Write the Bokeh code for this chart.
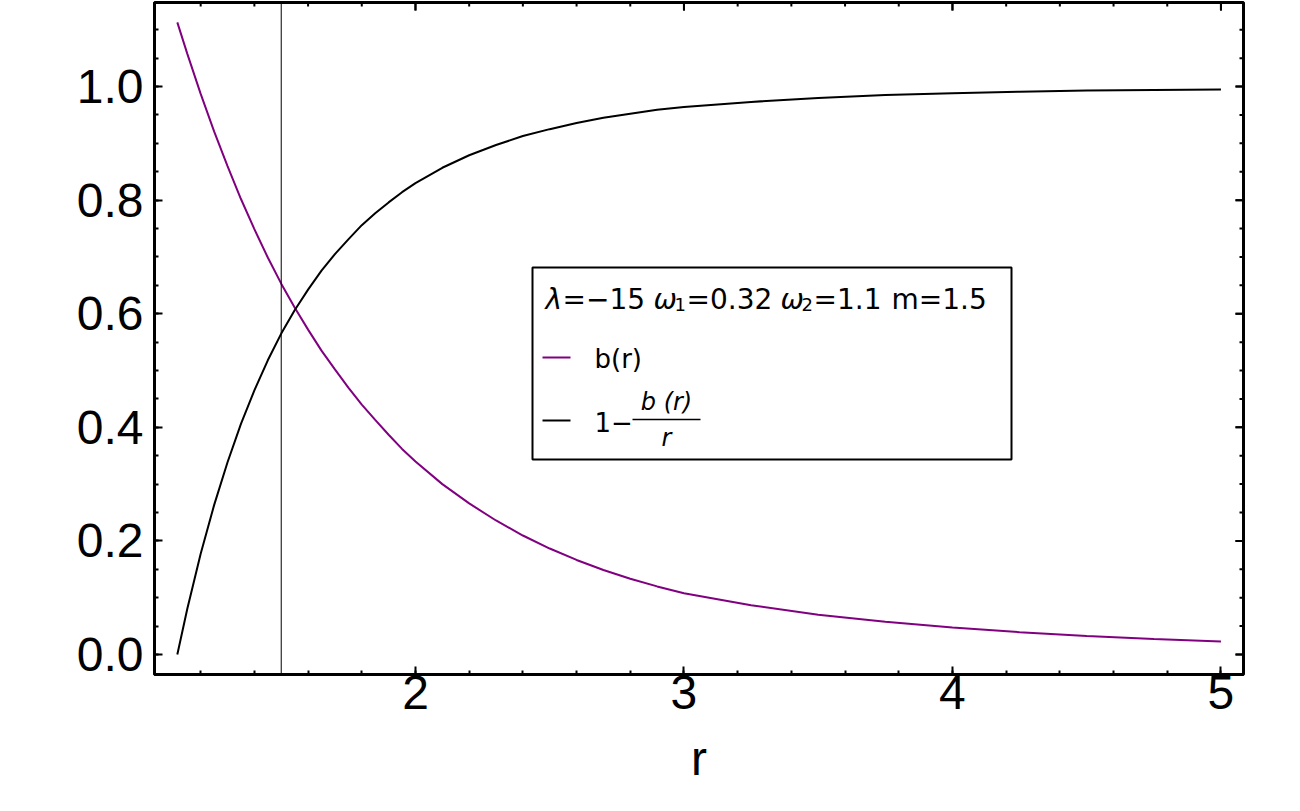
import numpy as np
from bokeh.plotting import figure
from bokeh.models import Range1d, FixedTicker, PrintfTickFormatter, Span, Label
from bokeh.embed import file_html
from bokeh.resources import INLINE

# ---- data ----
r_vals = [1.113, 1.15, 1.2, 1.25, 1.3, 1.35, 1.4, 1.45, 1.5, 1.55, 1.6, 1.65, 1.7, 1.75,
          1.8, 1.85, 1.9, 1.95, 2.0, 2.1, 2.2, 2.3, 2.4, 2.5, 2.6, 2.7, 2.8, 2.9, 3.0,
          3.25, 3.5, 3.75, 4.0, 4.25, 4.5, 4.75, 5.0]
b_vals = [1.113, 1.058, 0.987, 0.921, 0.860, 0.802, 0.749, 0.699, 0.653, 0.611, 0.572,
          0.535, 0.502, 0.470, 0.440, 0.413, 0.387, 0.362, 0.340, 0.300, 0.266, 0.236,
          0.2095, 0.1866, 0.1665, 0.1488, 0.1335, 0.1199, 0.108, 0.0866, 0.0702, 0.0575,
          0.0475, 0.0393, 0.0327, 0.0274, 0.0231]
one_minus_b_over_r = [0.0, 0.080, 0.1775, 0.263, 0.3385, 0.406, 0.465, 0.518, 0.565, 0.606,
                      0.6425, 0.676, 0.705, 0.731, 0.756, 0.777, 0.796, 0.814, 0.830, 0.857,
                      0.879, 0.897, 0.913, 0.925, 0.936, 0.945, 0.952, 0.959, 0.964, 0.973,
                      0.980, 0.985, 0.988, 0.991, 0.993, 0.994, 0.995]
throat_r = 1.5
x_major = [2, 3, 4, 5]
y_major = [0.0, 0.2, 0.4, 0.6, 0.8, 1.0]
legend_b = "b(r)"

PURPLE = "#800080"
X0, X1 = 1.028, 5.084
Y0, Y1 = -0.0352, 1.148
W, H = 1298, 809
FL, FR, FT, FB = 154, 1243, 2, 674   # frame edges in page pixels

p = figure(width=W, height=H, x_range=Range1d(X0, X1), y_range=Range1d(Y0, Y1),
           output_backend="svg", toolbar_location=None,
           min_border_left=FL, min_border_right=W - FR, min_border_top=FT,
           min_border_bottom=H - FB, x_axis_label="r")
p.xgrid.visible = False
p.ygrid.visible = False
p.outline_line_color = "black"
p.outline_line_width = 3
p.background_fill_color = "white"
p.border_fill_color = "white"

x_minor = [round(v, 2) for v in np.arange(1.2, 5.01, 0.2)]
y_minor = [round(v, 3) for v in np.arange(0.0, 1.101, 0.05)]

FONT = "Liberation Sans"

def style(ax):
    ax.axis_line_width = 3
    ax.axis_line_color = "black"
    ax.major_tick_in = 8
    ax.major_tick_out = 0
    ax.minor_tick_in = 4
    ax.minor_tick_out = 0
    ax.major_tick_line_width = 2
    ax.minor_tick_line_width = 2
    ax.major_label_text_font = FONT
    ax.major_label_text_color = "black"
    ax.major_label_text_font_size = "48px"

xa = p.xaxis[0]
xa.ticker = FixedTicker(ticks=x_major, minor_ticks=x_minor)
xa.formatter = PrintfTickFormatter(format="%d")
style(xa)
xa.major_label_standoff = 1
xa.axis_label_text_font = FONT
xa.axis_label_text_font_size = "48px"
xa.axis_label_text_font_style = "normal"
xa.axis_label_text_color = "black"
xa.axis_label_standoff = 20

ya = p.yaxis[0]
ya.ticker = FixedTicker(ticks=y_major, minor_ticks=y_minor)
ya.formatter = PrintfTickFormatter(format="%.1f")
style(ya)
ya.major_label_standoff = 11

# frame ticks on the top and right edges (no labels)
sx = (FR - FL) / (X1 - X0)
sy = (FB - FT) / (Y1 - Y0)
xt_all = x_major + x_minor
xt_len = [8 if v in x_major else 4 for v in xt_all]
p.segment(xt_all, [Y1] * len(xt_all), xt_all, [Y1 - L / sy for L in xt_len],
          line_color="black", line_width=2)
yt_all = y_major + y_minor
yt_len = [8 if v in y_major else 4 for v in yt_all]
p.segment([X1] * len(yt_all), yt_all, [X1 - L / sx for L in yt_len], yt_all,
          line_color="black", line_width=2)

# curves
p.line(r_vals, b_vals, line_color=PURPLE, line_width=2)
p.line(r_vals, one_minus_b_over_r, line_color="black", line_width=2)
p.add_layout(Span(location=throat_r, dimension="height", line_color="black", line_width=1))

# ---- legend (layout positions given in page pixels) ----
def px(xp, yp):
    return X0 + (xp - FL) / sx, Y1 - (yp - FT) / sy

l, t = px(532, 267)
rr, b = px(1011, 459)
p.quad(left=[l], right=[rr], top=[t], bottom=[b], fill_color="white", fill_alpha=1,
       line_color="black", line_width=2)

LFONT = "DejaVu Sans"
DY = -9  # baseline correction

def lab(xp, yp, text, size, style="normal", align="left"):
    x, y = px(xp, yp + DY)
    p.add_layout(Label(x=x, y=y, text=text, text_font=LFONT, text_font_size=size,
                       text_font_style=style, text_baseline="alphabetic",
                       text_align=align, text_color="black"))

# title line: λ=−15 ω1=0.32 ω2=1.1 m=1.5
lab(545, 308, "λ", "28px", "italic")
lab(562, 308, "=−15", "28px")
lab(653, 308, "ω", "28px", "italic")
lab(674, 313, "1", "18px")
lab(686, 308, "=0.32", "28px")
lab(780, 308, "ω", "28px", "italic")
lab(801, 313, "2", "18px")
lab(813, 308, "=1.1", "28px")
lab(891, 308, "m=1.5", "28px")

def seg(x0p, x1p, yp, color, width):
    a, y = px(x0p, yp)
    c, _ = px(x1p, yp)
    p.segment([a], [y], [c], [y], line_color=color, line_width=width)

seg(542, 570, 357, PURPLE, 2)
lab(594, 367, legend_b, "26px")

seg(542, 570, 420, "black", 2)
lab(594, 430, "1−", "26px")
seg(632, 700, 419, "black", 1.5)
lab(666, 410, "b (r)", "24px", "italic", "center")
lab(666, 446, "r", "24px", "italic", "center")

open("out.html", "w").write(file_html(p, INLINE))
